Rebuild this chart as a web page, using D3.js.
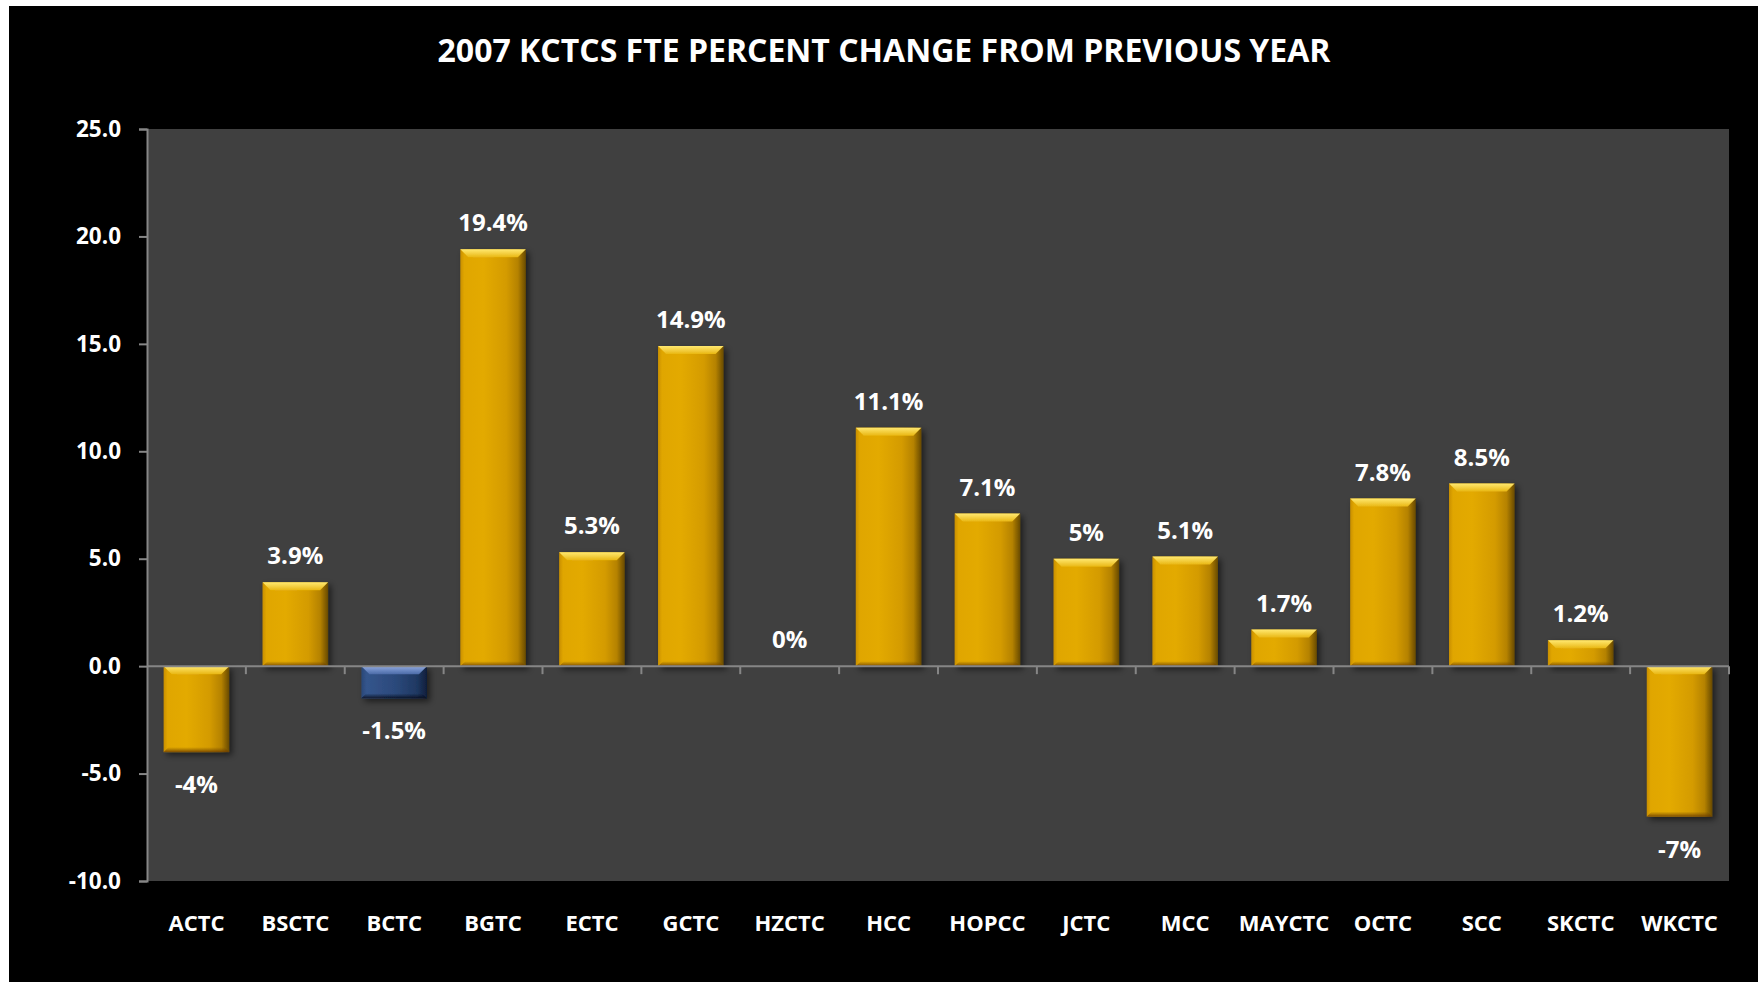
<!DOCTYPE html>
<html>
<head>
<meta charset="utf-8">
<script src="https://cdn.jsdelivr.net/npm/d3@7"></script>
<style>
  html, body { margin: 0; padding: 0; background: #fff; }
  svg { display: block; }
  text { font-family: "Open Sans", "Noto Sans", sans-serif; font-weight: 700; fill: #fff; }
</style>
</head>
<body>
<svg id="chart" width="1758" height="982"></svg>
<script>
const titleText = "2007 KCTCS FTE PERCENT CHANGE FROM PREVIOUS YEAR";
const categories = ["ACTC","BSCTC","BCTC","BGTC","ECTC","GCTC","HZCTC","HCC","HOPCC","JCTC","MCC","MAYCTC","OCTC","SCC","SKCTC","WKCTC"];
const values = [-4, 3.9, -1.5, 19.4, 5.3, 14.9, 0, 11.1, 7.1, 5, 5.1, 1.7, 7.8, 8.5, 1.2, -7];
const highlighted = ["BCTC"];
const yTicks = [-10, -5, 0, 5, 10, 15, 20, 25];
const yDomain = [-10, 25];

const data = categories.map((c, i) => ({ cat: c, v: values[i] }));

const svg = d3.select("#chart");
const W = 1758, H = 982;
const plot = { left: 147, right: 1729, top: 129, bottom: 881 };

// frame
svg.append("rect").attr("x", 0).attr("y", 0).attr("width", W).attr("height", H).attr("fill", "#fff");
svg.append("rect").attr("x", 9).attr("y", 6).attr("width", W - 9).attr("height", H - 6).attr("fill", "#000");

const defs = svg.append("defs");
function hGrad(id, stops) {
  const g = defs.append("linearGradient").attr("id", id).attr("x1", "0").attr("x2", "1").attr("y1", "0").attr("y2", "0");
  stops.forEach(s => g.append("stop").attr("offset", s[0]).attr("stop-color", s[1]));
}
function vGrad(id, stops) {
  const g = defs.append("linearGradient").attr("id", id).attr("x1", "0").attr("x2", "0").attr("y1", "0").attr("y2", "1");
  stops.forEach(s => g.append("stop").attr("offset", s[0]).attr("stop-color", s[1]));
}
hGrad("goldBody", [[0, "#C98F00"], [0.06, "#E0A600"], [0.35, "#E3AA05"], [0.7, "#D49B00"], [0.88, "#B58200"], [1, "#684A00"]]);
vGrad("goldTop", [[0, "#FFE870"], [1, "#E9B713"]]);
vGrad("goldBottom", [[0, "rgba(120,80,0,0)"], [1, "rgba(110,60,0,0.85)"]]);
hGrad("blueBody", [[0, "#2A4878"], [0.08, "#34558C"], [0.5, "#2C4A7C"], [0.85, "#1F3862"], [1, "#0F1E3A"]]);
vGrad("blueTop", [[0, "#8EA8E0"], [1, "#4C6CA8"]]);
vGrad("blueBottom", [[0, "rgba(10,20,40,0)"], [1, "rgba(5,10,25,0.85)"]]);

const shadow = defs.append("filter").attr("id", "shadow").attr("x", "-20%").attr("y", "-20%").attr("width", "150%").attr("height", "150%");
shadow.append("feDropShadow").attr("dx", 3).attr("dy", 3).attr("stdDeviation", 3).attr("flood-color", "#000").attr("flood-opacity", 0.55);

// plot background
svg.append("rect").attr("x", plot.left).attr("y", plot.top)
  .attr("width", plot.right - plot.left).attr("height", plot.bottom - plot.top).attr("fill", "#404040");

const x = d3.scaleBand().domain(categories).range([plot.left, plot.right]).paddingInner(0.337).paddingOuter(0.1685);
const y = d3.scaleLinear().domain(yDomain).range([plot.bottom, plot.top]);

// title
svg.append("text").attr("x", 884).attr("y", 62).attr("text-anchor", "middle")
  .style("font-size", "32px").text(titleText);

// y axis
const yAxis = svg.append("g").attr("transform", `translate(${plot.left},0)`)
  .call(d3.axisLeft(y).tickValues(yTicks).tickFormat(d => d.toFixed(1)).tickSize(8).tickPadding(18));
yAxis.select(".domain").attr("stroke", "#868686").attr("stroke-width", 2);
yAxis.selectAll(".tick line").attr("stroke", "#868686").attr("stroke-width", 2);
yAxis.selectAll(".tick text").attr("fill", "#fff").style("font-size", "22.5px").attr("font-family", null);

// bars
const bevel = 8;
const bars = svg.append("g");
data.forEach(d => {
  const x0 = x(d.cat), bw = x.bandwidth();
  const y0 = y(Math.max(0, d.v)), y1 = y(Math.min(0, d.v));
  const h = y1 - y0;
  if (h <= 0.5) return;
  const blue = highlighted.includes(d.cat);
  const g = bars.append("g").attr("filter", "url(#shadow)");
  g.append("rect").attr("x", x0).attr("y", y0).attr("width", bw).attr("height", h)
    .attr("fill", blue ? "url(#blueBody)" : "url(#goldBody)");
  const b = Math.min(bevel, h / 2);
  g.append("path").attr("d", `M${x0},${y0} L${x0 + bw},${y0} L${x0 + bw - b},${y0 + b} L${x0 + b},${y0 + b} Z`)
    .attr("fill", blue ? "url(#blueTop)" : "url(#goldTop)");
  const bb = Math.min(5, h / 3);
  g.append("path").attr("d", `M${x0},${y1} L${x0 + bw},${y1} L${x0 + bw - bb},${y1 - bb} L${x0 + bb},${y1 - bb} Z`)
    .attr("fill", blue ? "url(#blueBottom)" : "url(#goldBottom)");
});

// zero line with category ticks
const zeroY = y(0);
const zg = svg.append("g");
zg.append("line").attr("x1", plot.left).attr("x2", plot.right).attr("y1", zeroY).attr("y2", zeroY)
  .attr("stroke", "#868686").attr("stroke-width", 2);
zg.selectAll("line.t").data(categories).enter().append("line").attr("class", "t")
  .attr("x1", d => x(d) + x.bandwidth() + x.paddingInner() * x.step() / 2)
  .attr("x2", d => x(d) + x.bandwidth() + x.paddingInner() * x.step() / 2)
  .attr("y1", zeroY).attr("y2", zeroY + 8).attr("stroke", "#868686").attr("stroke-width", 2);

// category labels
svg.append("g").selectAll("text").data(categories).enter().append("text")
  .attr("x", d => x(d) + x.bandwidth() / 2).attr("y", 931).attr("text-anchor", "middle")
  .style("font-size", "22px").text(d => d);

// value labels
svg.append("g").selectAll("text").data(data).enter().append("text")
  .attr("x", d => x(d.cat) + x.bandwidth() / 2)
  .attr("y", d => d.v < 0 ? y(d.v) + 41 : y(d.v) - 18)
  .attr("text-anchor", "middle").style("font-size", "24px")
  .text(d => `${d.v}%`);
</script>
</body>
</html>
